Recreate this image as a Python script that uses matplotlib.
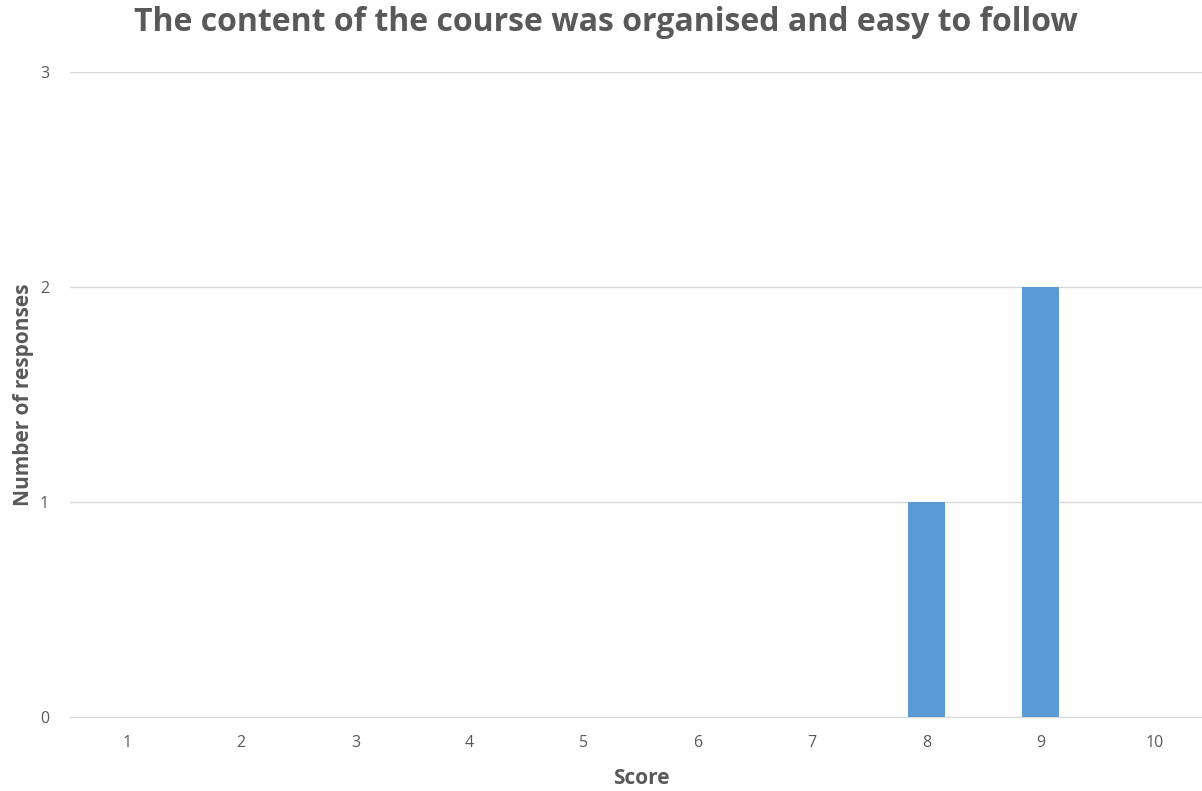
import matplotlib

matplotlib.use("Agg")

import matplotlib.pyplot as plt
import numpy as np

scores = [1, 2, 3, 4, 5, 6, 7, 8, 9, 10]
responses = [0, 0, 0, 0, 0, 0, 0, 1, 2, 0]
y_ticks = [0, 1, 2, 3]

text_grey = "#595959"
bar_blue = "#5b9bd5"
grid_grey = "#d9d9d9"

plt.rcParams["font.family"] = ["Open Sans", "DejaVu Sans"]

fig = plt.figure(figsize=(12.02, 7.91), dpi=100)
# plot area runs slightly past the right edge of the canvas
ax = fig.add_axes([0.0582, 0.0935, 0.950, 0.815])

x = np.arange(len(scores))
ax.bar(x, responses, width=0.32, color=bar_blue, zorder=3)

ax.set_xlim(-0.5, len(scores) - 0.5)
ax.set_ylim(0, 3)
ax.set_xticks(x)
ax.set_xticklabels([str(s) for s in scores])
ax.set_yticks(y_ticks)

ax.grid(axis="y", color=grid_grey, linewidth=1, zorder=0)
for side in ("top", "right", "left"):
    ax.spines[side].set_visible(False)
ax.spines["bottom"].set_color(grid_grey)
ax.tick_params(axis="both", length=0, colors=text_grey, labelsize=11.5)
ax.tick_params(axis="x", pad=13)
ax.tick_params(axis="y", pad=15)

ax.set_xlabel("Score", fontsize=15, fontweight="bold", color=text_grey, labelpad=12)
ax.set_ylabel("Number of responses", fontsize=15, fontweight="bold", color=text_grey, labelpad=4)
fig.text(0.504, 0.971, "The content of the course was organised and easy to follow",
         ha="center", va="center", fontsize=23, fontweight="bold", color=text_grey)

fig.savefig("out.png", dpi=100)
